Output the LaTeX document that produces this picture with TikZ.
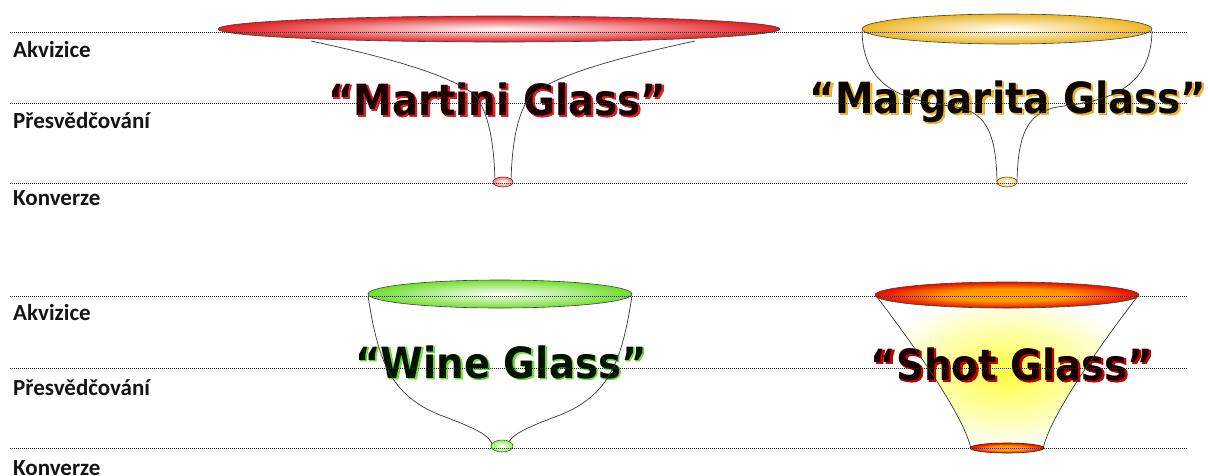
\documentclass[tikz,border=0pt]{standalone}
\usepackage{fontspec}
\usepackage{tikz}
\usetikzlibrary{positioning}
\setmainfont{Carlito}
\newfontfamily\glassfont{DejaVu Sans}[FakeStretch=0.9]
\newfontfamily\glowfont{DejaVu Sans}[FakeStretch=0.9,FakeBold=2]
\definecolor{martinired}{RGB}{225,30,34}
\definecolor{margaritagold}{RGB}{236,182,36}
\definecolor{winegreen}{RGB}{112,222,44}
\definecolor{shotred}{RGB}{160,12,0}
\definecolor{shotorange}{RGB}{255,150,0}
\definecolor{labelblack}{RGB}{20,20,20}
\definecolor{stemgray}{RGB}{55,55,55}
\pgfdeclareradialshading{shotrim}{\pgfpoint{0bp}{0bp}}{color(0bp)=(orange!70!yellow); color(12bp)=(shotorange); color(26bp)=(red!90!black); color(40bp)=(shotred); color(50bp)=(shotred!50!black)}

\tikzset{
  stage/.style={font=\bfseries\fontsize{23}{25}\selectfont, text=labelblack, anchor=base west, inner sep=0pt},
  glassname/.style={font=\glassfont\bfseries\fontsize{43}{47}\selectfont, anchor=base, inner sep=0pt},
  glassglow/.style={font=\glowfont\bfseries\fontsize{43}{47}\selectfont, anchor=base, inner sep=0pt},
  funnel/.style={densely dotted, line width=1pt, black!85},
  stem/.style={stemgray, line width=0.7pt},
  rim/.style={draw=black!75, line width=0.6pt},
}

\begin{document}
\begin{tikzpicture}[x=1pt,y=-1pt]
  \useasboundingbox (0,0) rectangle (1208,475);
  \fill[white] (0,0) rectangle (1208,475);

  % Shot glass body glow
  \shade[inner color=yellow!75, outer color=white]
    (877,297) .. controls (925,360) and (965,420) .. (971,449) --
    (1043,449) .. controls (1049,420) and (1089,360) .. (1137,297) -- cycle;

  % Glass names (glow first, then the letters)
  \node[glassglow, martinired] (martiniglow) at (498.5,116.5) {“Martini Glass”};
  \node[glassname, text={rgb,255:red,28;green,0;blue,0}] (martini) at (497,115) {“Martini Glass”};
  \node[glassglow, margaritagold] (margaritaglow) at (1009.5,114.5) {“Margarita Glass”};
  \node[glassname, text={rgb,255:red,12;green,8;blue,0}] (margarita) at (1008,113) {“Margarita Glass”};
  \node[glassglow, winegreen] (wineglow) at (502,379) {“Wine Glass”};
  \node[glassname, text={rgb,255:red,0;green,18;blue,0}] (wine) at (501,378) {“Wine Glass”};
  \node[glassglow, red!80!black] (shotglow) at (1013.5,381.5) {“Shot Glass”};
  \node[glassname, text={rgb,255:red,22;green,0;blue,0}] (shot) at (1012,380) {“Shot Glass”};

  % Martini glass
  \draw[stem] (311,41) .. controls (390,58) and (450,75) .. (475,95)
    .. controls (488,112) and (494,140) .. (495,182);
  \draw[stem] (695,41) .. controls (616,58) and (556,75) .. (531,95)
    .. controls (518,112) and (512,140) .. (511,182);
  \shadedraw[rim, inner color=white, outer color=martinired] (499,29) ellipse (281 and 13);
  \shadedraw[draw=martinired!60!black, line width=0.6pt, inner color=white, outer color=martinired!55] (503,182) ellipse (10 and 5);

  % Margarita glass
  \draw[stem] (862,31) .. controls (863,85) and (900,100) .. (950,106)
    .. controls (985,110) and (996,130) .. (997,182);
  \draw[stem] (1152,31) .. controls (1151,85) and (1114,100) .. (1064,106)
    .. controls (1029,110) and (1018,130) .. (1017,182);
  \shadedraw[rim, inner color=white, outer color=margaritagold] (1007,29) ellipse (145 and 15);
  \shadedraw[draw=orange!50!black, line width=0.6pt, inner color=white, outer color=margaritagold!60] (1007,182) ellipse (10 and 5);

  % Wine glass
  \draw[stem] (368,296) .. controls (378,360) and (390,395) .. (440,415)
    .. controls (475,428) and (490,435) .. (493,446);
  \draw[stem] (632,296) .. controls (622,360) and (610,395) .. (560,415)
    .. controls (525,428) and (510,435) .. (507,446);
  \shadedraw[rim, inner color=white, outer color=winegreen] (500,294) ellipse (132 and 14);
  \shadedraw[draw=winegreen!50!black, line width=0.6pt, inner color=white, outer color=winegreen!70] (502,446) ellipse (11 and 6);

  % Shot glass
  \draw[stem] (877,297) .. controls (925,360) and (965,420) .. (971,449);
  \draw[stem] (1137,297) .. controls (1089,360) and (1049,420) .. (1043,449);
  \shadedraw[rim, shading=shotrim] (1007,295) ellipse (132 and 13);
  \shadedraw[draw=shotred!70!black, line width=0.6pt, shading=shotrim] (1007,448) ellipse (37 and 5);

  % Funnel stages
  \foreach \y in {32,103,183,296,368,448}
    \draw[funnel] (10,\y) -- (1188,\y);
  \foreach \lbl/\y [count=\i] in {Akvizice/57, Přesvědčování/128, Konverze/205,
                                  Akvizice/320, Přesvědčování/395, Konverze/475}
    \node[stage] (stage\i) at (13,\y) {\lbl};
\end{tikzpicture}
\end{document}
